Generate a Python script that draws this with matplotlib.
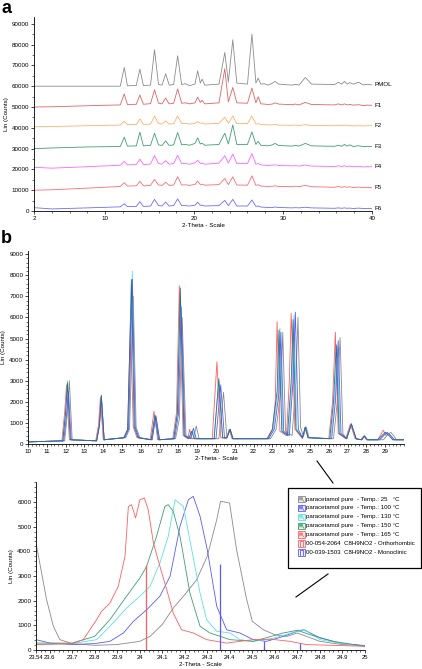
import matplotlib
matplotlib.use("Agg")
import matplotlib.pyplot as plt
from matplotlib.lines import Line2D
from matplotlib.patches import Rectangle
from matplotlib.ticker import MultipleLocator, FixedLocator

plt.rcParams["font.family"] = ["Liberation Sans", "DejaVu Sans"]

W, H = 422, 669

def fx(x):
    return x / W

def fy(y):
    return 1 - y / H

# ---------------- panel a data ----------------
xa = [2, 4, 8, 11.7, 12.15, 12.5, 13.5, 13.9, 14.3, 15.1, 15.55, 16.0, 16.4, 16.8, 17.2,
      17.7, 18.15, 18.6, 19.0, 19.5, 20.1, 20.4, 20.7, 20.9, 21.2, 22.8, 23.45, 23.85,
      24.35, 24.8, 26.0, 26.5, 26.95, 27.2, 27.5, 27.9, 28.3, 28.8, 29.1, 29.5, 31.0,
      31.4, 31.8, 32.5, 33.2, 35.8, 36.2, 36.6, 36.9, 37.2, 37.5, 37.9, 38.5, 39.0, 39.5, 40]

pmol = [60000, 60000, 60000, 60000, 69000, 60200, 60300, 68200, 60300, 60500, 77500, 60800,
        60500, 66000, 60500, 60800, 74600, 60800, 61200, 60300, 61000, 67400, 61500, 63400,
        60500, 61000, 76200, 62000, 82300, 61500, 61000, 85000, 61500, 63900, 61000, 61200,
        60500, 61500, 62300, 61000, 60500, 60900, 60500, 64200, 61000, 60800, 61900, 61000,
        62300, 61000, 61700, 61000, 61900, 60600, 60900, 60600]
f1 = [50000, 50100, 50600, 51000, 56300, 51200, 51300, 55800, 51300, 51600, 58300, 51800,
      51500, 54300, 51500, 51800, 58700, 51800, 52000, 51500, 52000, 54700, 52200, 53200,
      51500, 52000, 68400, 52500, 59400, 52000, 51800, 59100, 52000, 54900, 51500, 51400,
      51200, 51400, 52000, 51400, 51100, 51400, 51000, 52200, 51200, 51000, 51500, 51000,
      51500, 51000, 51200, 50900, 51100, 50700, 50900, 50800]
f2 = [40500, 40600, 41000, 41300, 43200, 41500, 41600, 44300, 41600, 41800, 45600, 42000,
      41800, 43300, 41800, 42000, 45700, 42000, 42100, 41800, 42200, 43000, 42200, 42300,
      41800, 42200, 45100, 42200, 45700, 42000, 42000, 45700, 41800, 42000, 41600, 41500,
      41400, 41400, 41600, 41300, 41200, 41300, 41100, 41500, 41100, 41000, 41200, 41000,
      41300, 41000, 41100, 40900, 41000, 40900, 41000, 41000]
f3 = [30000, 30300, 30800, 31000, 35500, 31200, 31300, 37900, 31300, 31600, 37400, 31800,
      31500, 33700, 31500, 31800, 37700, 31800, 32000, 31600, 32500, 35200, 32200, 32600,
      31600, 32000, 37400, 32200, 41400, 32000, 32000, 38000, 32000, 33500, 31600, 31500,
      31300, 31800, 32500, 31500, 31200, 31500, 31200, 32500, 31300, 31100, 31600, 31100,
      32000, 31200, 31800, 31000, 31400, 30900, 31100, 31000]
f4 = [21000, 20600, 21300, 22000, 23900, 22200, 22300, 24900, 22300, 22600, 26600, 22800,
      22500, 24200, 22500, 22800, 26800, 22800, 22800, 22500, 23200, 24400, 22800, 23000,
      22500, 23000, 26600, 23000, 27400, 22800, 22800, 27600, 22500, 22800, 22200, 22000,
      21900, 22000, 22200, 21900, 21700, 21800, 21600, 22100, 21600, 21400, 21700, 21400,
      21700, 21400, 21600, 21300, 21500, 21200, 21300, 21300]
f5 = [10000, 10200, 11000, 11800, 13600, 12000, 12100, 14300, 12100, 12300, 15200, 12500,
      12300, 13800, 12300, 12500, 16500, 12500, 12600, 12300, 12800, 14400, 12700, 12900,
      12400, 12700, 15600, 12700, 16400, 12500, 12400, 16900, 12300, 12600, 12000, 11900,
      11800, 11900, 12100, 11800, 11700, 11900, 11700, 12300, 11700, 11400, 11800, 11400,
      11700, 11400, 11600, 11300, 11500, 11200, 11300, 11200]
f6 = [1600, 1000, 1500, 2000, 3500, 2100, 2200, 4500, 2200, 2400, 5600, 2600, 2400, 4300,
      2400, 2600, 5800, 2600, 2600, 2400, 2800, 4200, 2700, 2800, 2400, 2600, 5100, 2600,
      5600, 2400, 2400, 5300, 2200, 2400, 1900, 1800, 1700, 1700, 1900, 1700, 1500, 1600,
      1500, 1800, 1500, 1300, 1500, 1300, 1500, 1300, 1400, 1200, 1400, 1200, 1200, 1200]

a_names = ["PMOL", "F1", "F2", "F3", "F4", "F5", "F6"]
a_series = [pmol, f1, f2, f3, f4, f5, f6]
a_colors = ["#8c8c8c", "#e06464", "#ffb070", "#3f9f72", "#ff66ff", "#ff6a74", "#6c6cff"]

# ---------------- panel b data ----------------
b_gray_x = [10, 11.95, 12.1, 12.2, 12.35, 13.65, 13.8, 13.9, 14.05, 15.2, 15.4, 15.6, 15.75,
            15.95, 16.6, 16.8, 17.0, 17.85, 18.05, 18.2, 18.4, 18.8, 18.95, 19.1, 20.15, 20.4,
            20.58, 20.75, 20.9, 22.9, 23.2, 23.45, 23.55, 23.7, 24.05, 24.25, 24.36, 24.5,
            24.65, 24.8, 24.95, 26.25, 26.45, 26.6, 26.75, 26.95, 27.2, 27.45, 27.75, 27.9,
            28.05, 28.9, 29.2, 29.3, 29.45, 29.6, 30]
b_gray_y = [100, 150, 1500, 3000, 200, 150, 900, 2300, 200, 300, 700, 7000, 800, 300, 200,
            1300, 200, 250, 1200, 6000, 400, 250, 850, 250, 250, 2450, 300, 700, 250, 250,
            700, 2500, 5300, 600, 400, 3000, 6000, 800, 350, 800, 300, 250, 2000, 5050, 500,
            250, 950, 250, 200, 380, 200, 200, 500, 550, 400, 200, 200]

b_blue_x = [10, 11.9, 12.05, 12.15, 12.3, 13.65, 13.8, 13.9, 14.05, 15.15, 15.35, 15.55,
            15.7, 15.9, 16.6, 16.8, 17.0, 17.8, 18.0, 18.15, 18.35, 18.65, 18.8, 18.95, 20.0,
            20.25, 20.45, 20.58, 20.75, 20.9, 22.8, 23.1, 23.35, 23.45, 23.6, 23.9, 24.1,
            24.22, 24.38, 24.6, 24.75, 24.9, 26.15, 26.35, 26.5, 26.65, 26.95, 27.2, 27.45,
            27.75, 27.9, 28.05, 28.7, 29.1, 29.3, 29.5, 30]
b_blue_y = [100, 150, 1400, 2500, 200, 150, 900, 2200, 200, 300, 700, 7800, 800, 300, 200,
            1350, 200, 250, 1400, 6500, 400, 250, 750, 250, 250, 2800, 300, 300, 700, 250,
            250, 700, 2400, 5300, 600, 400, 3000, 6250, 700, 300, 800, 300, 250, 2000, 4900,
            500, 250, 950, 250, 200, 380, 200, 200, 550, 400, 200, 200]

b_cyan_x = [10, 11.85, 12.0, 12.1, 12.25, 13.65, 13.8, 13.9, 14.05, 15.15, 15.35, 15.55,
            15.7, 15.9, 16.55, 16.75, 16.95, 17.75, 17.95, 18.1, 18.3, 18.6, 18.75, 18.9,
            19.9, 20.15, 20.35, 20.58, 20.75, 20.9, 22.8, 23.05, 23.3, 23.4, 23.55, 23.85,
            24.05, 24.15, 24.3, 24.6, 24.75, 24.9, 26.1, 26.3, 26.45, 26.6, 26.95, 27.2,
            27.45, 27.75, 27.9, 28.05, 28.7, 29.05, 29.25, 29.45, 30]
b_cyan_y = [100, 150, 1500, 3000, 200, 150, 900, 2300, 200, 300, 700, 8200, 800, 300, 200,
            1300, 200, 250, 1500, 7000, 400, 250, 650, 250, 250, 3000, 300, 300, 700, 250,
            250, 700, 2500, 5500, 600, 400, 3000, 6100, 700, 300, 800, 300, 250, 2000, 4600,
            500, 250, 950, 250, 200, 380, 200, 200, 550, 400, 200, 200]

b_green_x = [10, 11.85, 12.0, 12.1, 12.25, 13.65, 13.8, 13.9, 14.05, 15.1, 15.3, 15.5,
             15.65, 15.85, 16.55, 16.75, 16.95, 17.75, 17.95, 18.1, 18.3, 18.55, 18.7, 18.85,
             19.9, 20.15, 20.35, 20.58, 20.75, 20.9, 22.75, 23.0, 23.25, 23.35, 23.5, 23.8,
             24.0, 24.1, 24.25, 24.6, 24.75, 24.9, 26.05, 26.25, 26.4, 26.55, 26.95, 27.2,
             27.45, 27.75, 27.9, 28.05, 28.6, 29.0, 29.2, 29.4, 30]
b_green_y = [100, 150, 1500, 2900, 200, 150, 900, 2300, 200, 300, 700, 7800, 800, 300, 200,
             1350, 200, 250, 1500, 7400, 400, 250, 600, 250, 250, 3100, 300, 300, 700, 250,
             250, 700, 2500, 5400, 600, 400, 3000, 5900, 700, 300, 800, 300, 250, 2000, 4700,
             500, 250, 950, 250, 200, 380, 200, 200, 550, 400, 200, 200]

b_red_x = [10, 11.8, 11.95, 12.05, 12.2, 13.6, 13.75, 13.85, 14.0, 15.1, 15.3, 15.45, 15.6,
           15.8, 16.5, 16.7, 16.9, 17.7, 17.9, 18.05, 18.25, 18.5, 18.6, 18.7, 19.8, 20.05,
           20.25, 20.55, 20.7, 20.85, 22.7, 23.0, 23.15, 23.25, 23.4, 23.75, 23.9, 24.0,
           24.2, 24.6, 24.75, 24.9, 26.0, 26.2, 26.35, 26.5, 26.9, 27.15, 27.4, 27.7, 27.85,
           28.0, 28.6, 28.9, 29.05, 29.2, 29.4, 30]
b_red_y = [100, 150, 1500, 2800, 200, 150, 900, 2200, 200, 300, 700, 5700, 800, 300, 200,
           1550, 200, 250, 1500, 7500, 400, 250, 700, 250, 250, 3900, 300, 250, 700, 250,
           250, 700, 2000, 5800, 600, 400, 3000, 6200, 700, 250, 800, 300, 250, 2000, 5300,
           500, 250, 950, 250, 200, 380, 200, 200, 650, 400, 500, 200, 200]

# ---------------- panel c data ----------------
c_gray_x = [23.54, 23.587, 23.617, 23.646, 23.70, 23.80, 23.898, 24.0, 24.046, 24.10, 24.149,
            24.20, 24.253, 24.30, 24.342, 24.359, 24.399, 24.43, 24.475, 24.50, 24.549, 24.60,
            24.652, 24.70, 24.741, 24.80, 24.899, 25.0]
c_gray_y = [4340, 2040, 960, 420, 260, 190, 220, 350, 550, 1030, 1700, 2240, 2850, 3800,
            5280, 6030, 5960, 4070, 2040, 1160, 820, 620, 550, 690, 550, 350, 220, 180]
c_blue_x = [23.54, 23.602, 23.70, 23.80, 23.868, 23.928, 23.972, 24.031, 24.09, 24.135,
            24.179, 24.216, 24.238, 24.268, 24.30, 24.342, 24.386, 24.445, 24.504, 24.563,
            24.637, 24.70, 24.73, 24.80, 24.899, 25.0]
c_blue_y = [420, 280, 220, 260, 350, 690, 1160, 1630, 2180, 2990, 5010, 6090, 6230, 5420,
            4070, 1770, 820, 690, 420, 350, 550, 760, 820, 490, 260, 180]
c_cyan_x = [23.54, 23.70, 23.809, 23.868, 23.942, 24.001, 24.046, 24.09, 24.127, 24.157,
            24.194, 24.231, 24.268, 24.297, 24.342, 24.401, 24.445, 24.504, 24.60, 24.72,
            24.741, 24.80, 24.899, 25.0]
c_cyan_y = [220, 260, 420, 960, 1700, 2180, 2580, 3530, 4610, 6090, 5820, 4070, 2310, 1230,
            760, 690, 420, 350, 490, 820, 760, 420, 260, 150]
c_green_x = [23.54, 23.70, 23.80, 23.868, 23.942, 24.001, 24.031, 24.075, 24.112, 24.127,
             24.149, 24.179, 24.223, 24.268, 24.312, 24.401, 24.504, 24.637, 24.70, 24.756,
             24.859, 25.0]
c_green_y = [280, 280, 550, 1230, 2180, 2920, 3390, 4610, 5820, 5890, 5620, 4610, 2310, 960,
             690, 420, 350, 690, 800, 620, 350, 150]
c_red_x = [23.54, 23.70, 23.75, 23.809, 23.831, 23.868, 23.905, 23.935, 23.95, 23.964,
           23.982, 24.001, 24.021, 24.038, 24.061, 24.09, 24.12, 24.149, 24.186, 24.238,
           24.297, 24.386, 24.504, 24.60, 24.667, 24.741, 25.0]
c_red_y = [220, 260, 420, 1230, 1570, 1900, 2580, 3800, 5820, 5890, 5350, 6090, 6160, 5690,
           4340, 3390, 2450, 1500, 820, 690, 420, 280, 420, 420, 350, 220, 150]

orth_x = [24.03, 24.55]
orth_y = [3450, 120]
mono_x = [24.355, 24.55, 24.71]
mono_y = [3500, 380, 300]

temps = ["25   °C", "100 °C", "130 °C", "150 °C", "165 °C"]
t_colors = ["#8a8a8a", "#5a5aff", "#5ee0e0", "#3f9f72", "#ff5f5f"]
ref_labels = ["00-054-2064  C8H9NO2 - Orthorhombic", "00-039-1503  C8H9NO2 - Monoclinic"]
ref_colors = ["#ff5f5f", "#5a5aff"]

FS = 4.5

def style_axes(ax):
    for s in ["top", "right"]:
        ax.spines[s].set_visible(False)
    for s in ["left", "bottom"]:
        ax.spines[s].set_linewidth(0.6)
    ax.tick_params(which="major", length=2.2, width=0.5, labelsize=FS, pad=1.2)
    ax.tick_params(which="minor", length=1.2, width=0.4)


fig = plt.figure(figsize=(W / 100, H / 100), dpi=100)

# ---- a ----
ax_a = fig.add_axes([fx(34), fy(211), fx(372) - fx(34), (211 - 16.5) / H])
for name, ys, col in zip(a_names, a_series, a_colors):
    ax_a.plot(xa, ys, color=col, lw=0.6)
    ax_a.text(40.3, ys[-1], name, fontsize=FS, va="center", ha="left")
ax_a.set_xlim(2, 40)
ax_a.set_ylim(0, 93500)
ax_a.xaxis.set_major_locator(FixedLocator([2, 10, 20, 30, 40]))
ax_a.xaxis.set_minor_locator(MultipleLocator(2))
ax_a.yaxis.set_major_locator(MultipleLocator(10000))
ax_a.yaxis.set_minor_locator(MultipleLocator(5000))
style_axes(ax_a)
ax_a.set_xlabel("2-Theta - Scale", fontsize=FS, labelpad=1.5)
ax_a.set_ylabel("Lin (Counts)", fontsize=FS, labelpad=2)
fig.text(fx(1), fy(0), "a", fontsize=13, fontweight="bold", va="top")

# ---- b ----
ax_b = fig.add_axes([fx(28), fy(444), fx(404) - fx(28), (444 - 251) / H])
ax_b.plot(b_gray_x, b_gray_y, color=t_colors[0], lw=0.6)
ax_b.plot(b_red_x, b_red_y, color=t_colors[4], lw=0.6)
ax_b.plot(b_cyan_x, b_cyan_y, color=t_colors[2], lw=0.6)
ax_b.plot(b_blue_x, b_blue_y, color=t_colors[1], lw=0.6)
ax_b.plot(b_green_x, b_green_y, color="#2a6e86", lw=0.6)
ax_b.set_xlim(10, 30)
ax_b.set_ylim(0, 9150)
ax_b.xaxis.set_major_locator(FixedLocator(list(range(10, 30))))
ax_b.xaxis.set_minor_locator(MultipleLocator(0.2))
ax_b.yaxis.set_major_locator(MultipleLocator(1000))
ax_b.yaxis.set_minor_locator(MultipleLocator(200))
style_axes(ax_b)
ax_b.set_xlabel("2-Theta - Scale", fontsize=FS, labelpad=1.5)
ax_b.set_ylabel("Lin (Counts)", fontsize=FS, labelpad=2)
fig.text(fx(1), fy(230), "b", fontsize=13, fontweight="bold", va="top")

# ---- c ----
ax_c = fig.add_axes([fx(36), fy(650), fx(365) - fx(36), (650 - 482) / H])
ax_c.plot(c_gray_x, c_gray_y, color=t_colors[0], lw=0.6)
ax_c.plot(c_blue_x, c_blue_y, color=t_colors[1], lw=0.6)
ax_c.plot(c_cyan_x, c_cyan_y, color=t_colors[2], lw=0.6)
ax_c.plot(c_green_x, c_green_y, color=t_colors[3], lw=0.6)
ax_c.plot(c_red_x, c_red_y, color=t_colors[4], lw=0.6)
ax_c.vlines(orth_x, 0, orth_y, color=ref_colors[0], lw=0.9)
ax_c.vlines(mono_x, 0, mono_y, color=ref_colors[1], lw=0.9)
ax_c.set_xlim(23.54, 25)
ax_c.set_ylim(0, 6810)
ax_c.xaxis.set_major_locator(FixedLocator([23.54, 23.6, 23.7, 23.8, 23.9, 24.0, 24.1, 24.2,
                                           24.3, 24.4, 24.5, 24.6, 24.7, 24.8, 24.9, 25.0]))
ax_c.set_xticklabels(["23.54", "23.6", "23.7", "23.8", "23.9", "24", "24.1", "24.2", "24.3",
                      "24.4", "24.5", "24.6", "24.7", "24.8", "24.9", "25"])
ax_c.xaxis.set_minor_locator(MultipleLocator(0.02))
ax_c.yaxis.set_major_locator(MultipleLocator(1000))
ax_c.yaxis.set_minor_locator(MultipleLocator(200))
style_axes(ax_c)
ax_c.tick_params(axis="x", which="major", labelsize=4.2)
ax_c.set_xlabel("2-Theta - Scale", fontsize=FS, labelpad=1.5)
ax_c.set_ylabel("Lin (Counts)", fontsize=FS, labelpad=2)

# ---- legend box ----
fig.patches.append(Rectangle((fx(288), fy(568)), fx(421) - fx(288), fy(488) - fy(568),
                             transform=fig.transFigure, fill=False, ec="black", lw=0.9))
labels = ["paracetamol pure  - Temp.: " + t for t in temps] + ref_labels
colors = t_colors + ref_colors
for i, (lab, col) in enumerate(zip(labels, colors)):
    yc = 499 + i * 8.9
    fig.patches.append(Rectangle((fx(297.5), fy(yc + 3.2)), fx(7), fy(0) - fy(6.4),
                                 transform=fig.transFigure, fc="#f2f2f2", ec=col, lw=0.6))
    if i < 5:
        zx = [298.5, 300, 301, 302, 303, 304]
        zy = [yc + 2.5, yc - 2.2, yc + 1.5, yc - 2.2, yc + 1.5, yc + 2.5]
    else:
        zx = [299.5, 299.5, 302.5, 302.5]
        zy = [yc + 2.5, yc - 2.2, yc - 2.2, yc + 2.5]
    fig.lines.append(Line2D([fx(v) for v in zx], [fy(v) for v in zy],
                            transform=fig.transFigure, color=col, lw=0.6))
    fig.text(fx(305.5), fy(yc), lab, fontsize=4.4, va="center", ha="left")

# connector lines
fig.lines.append(Line2D([fx(317), fx(333)], [fy(461), fy(483)],
                        transform=fig.transFigure, color="black", lw=0.8))
fig.lines.append(Line2D([fx(296), fx(328)], [fy(597), fy(574)],
                        transform=fig.transFigure, color="black", lw=0.8))

fig.savefig("out.png", dpi=100)
